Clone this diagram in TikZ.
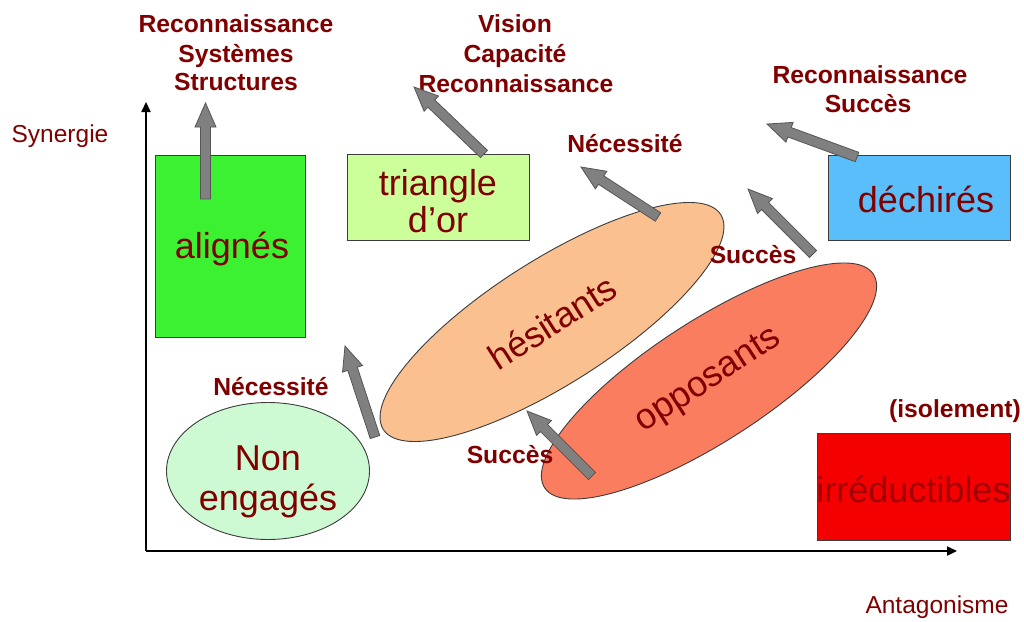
\documentclass[tikz,border=0pt]{standalone}
\usepackage{fontspec}
\setmainfont{Liberation Sans}
\usetikzlibrary{calc,arrows.meta,shapes.geometric}
\definecolor{lblred}{RGB}{128,0,0}
\definecolor{irrtext}{RGB}{160,0,0}
\definecolor{boxline}{RGB}{60,60,60}
\definecolor{alfill}{RGB}{60,240,50}
\definecolor{trfill}{RGB}{204,255,153}
\definecolor{defill}{RGB}{90,190,250}
\definecolor{irfill}{RGB}{245,0,0}
\definecolor{nefill}{RGB}{205,250,210}
\definecolor{hefill}{RGB}{250,192,143}
\definecolor{opfill}{RGB}{250,125,95}
\definecolor{arrfill}{RGB}{128,128,128}
\definecolor{arrline}{RGB}{85,85,85}
\newcommand{\grayarrow}[2]{%
  \coordinate (gaH) at ($(#2)!24pt!(#1)$);
  \filldraw[grayarr] ($(#1)!5pt!90:(#2)$) -- ($(#1)!5pt!-90:(#2)$)
    -- ($(gaH)!5pt!-90:(#2)$) -- ($(gaH)!10.5pt!-90:(#2)$) -- (#2)
    -- ($(gaH)!10.5pt!90:(#2)$) -- ($(gaH)!5pt!90:(#2)$) -- cycle;}
\begin{document}
\begin{tikzpicture}[x=1pt,y=-1pt,
  lbl/.style={text=lblred, font=\fontsize{24.7}{29}\selectfont\bfseries, anchor=base, inner sep=0},
  axlbl/.style={text=lblred, font=\fontsize{24.5}{29}\selectfont, anchor=base, inner sep=0},
  bigtxt/.style={text=lblred, font=\fontsize{36}{40}\selectfont, anchor=base, inner sep=0},
  shapebox/.style={rectangle, draw=boxline, line width=1pt, inner sep=0},
  shapeell/.style={ellipse, draw=boxline, line width=0.9pt, inner sep=0, text=lblred, font=\fontsize{36}{40}\selectfont},
  grayarr/.style={fill=arrfill, draw=arrline, line width=0.8pt, line join=miter},
  axis/.style={draw=black, line width=2.2pt, -{Triangle[length=10pt,width=9pt]}}]
\useasboundingbox (0,0) rectangle (1024,621);
\fill[white] (0,0) rectangle (1024,621);

% axes
\coordinate (origin) at (146,551);
\coordinate (ytop) at (146,102);
\coordinate (xend) at (957,551);
\draw[axis] (origin) -- (ytop);
\draw[axis] (origin) -- (xend);
\node[axlbl] (syn) at (60,142) {Synergie};
\node[axlbl] (ant) at (937,613) {Antagonisme};

% boxes
\node[shapebox, fill=alfill, minimum width=150pt, minimum height=182pt] (al) at (230,246) {};
\node[shapebox, fill=trfill, minimum width=182pt, minimum height=86pt] (tr) at (438,197) {};
\node[shapebox, fill=defill, minimum width=182pt, minimum height=85pt] (de) at (919,197.5) {};
\node[shapebox, fill=irfill, minimum width=193pt, minimum height=107pt] (ir) at (913.5,486.5) {};

% ellipses
\node[shapeell, fill=nefill, minimum width=203pt, minimum height=137pt] (ne) at (268,471) {};
\node[shapeell, fill=hefill, minimum width=400pt, minimum height=124pt, rotate=32.5] (he) at (552,322) {hésitants};
\node[shapeell, fill=opfill, minimum width=392pt, minimum height=120pt, rotate=33] (op) at (709,381) {opposants};

% box texts
\node[bigtxt] (alT) at (232,258) {alignés};
\node[bigtxt] (trT1) at (438,195) {triangle};
\node[bigtxt] (trT2) at (438,232) {d’or};
\node[bigtxt] (deT) at (926,212) {déchirés};
\node[bigtxt, text=irrtext] (irT) at (913.5,502) {irréductibles};
\node[bigtxt] (neT1) at (268,470) {Non};
\node[bigtxt] (neT2) at (268,510) {engagés};

% labels
\node[lbl] (r1a) at (236,32) {Reconnaissance};
\node[lbl] (r1b) at (236,62) {Systèmes};
\node[lbl] (r1c) at (236,90) {Structures};
\node[lbl] (r2a) at (515,32) {Vision};
\node[lbl] (r2b) at (515,62) {Capacité};
\node[lbl] (r2c) at (516,92) {Reconnaissance};
\node[lbl] (r3a) at (870,83) {Reconnaissance};
\node[lbl] (r3b) at (868,112) {Succès};
\node[lbl] (nec1) at (625,152) {Nécessité};
\node[lbl] (nec2) at (271,395) {Nécessité};
\node[lbl] (suc1) at (510,463) {Succès};
\node[lbl] (suc2) at (753,263) {Succès};
\node[lbl] (iso) at (955,417) {(isolement)};

% gray arrows
\coordinate (s1) at (205.5,199); \coordinate (e1) at (205.5,103);
\coordinate (s2) at (484,154);   \coordinate (e2) at (414,87);
\coordinate (s3) at (658,217);   \coordinate (e3) at (581,167);
\coordinate (s4) at (375,437);   \coordinate (e4) at (345,346);
\coordinate (s5) at (592,476);   \coordinate (e5) at (527,411);
\coordinate (s6) at (813,254);   \coordinate (e6) at (748,189);
\coordinate (s7) at (857,157);   \coordinate (e7) at (767,124);
\grayarrow{s1}{e1}
\grayarrow{s2}{e2}
\grayarrow{s3}{e3}
\grayarrow{s4}{e4}
\grayarrow{s5}{e5}
\grayarrow{s6}{e6}
\grayarrow{s7}{e7}
\end{tikzpicture}
\end{document}
